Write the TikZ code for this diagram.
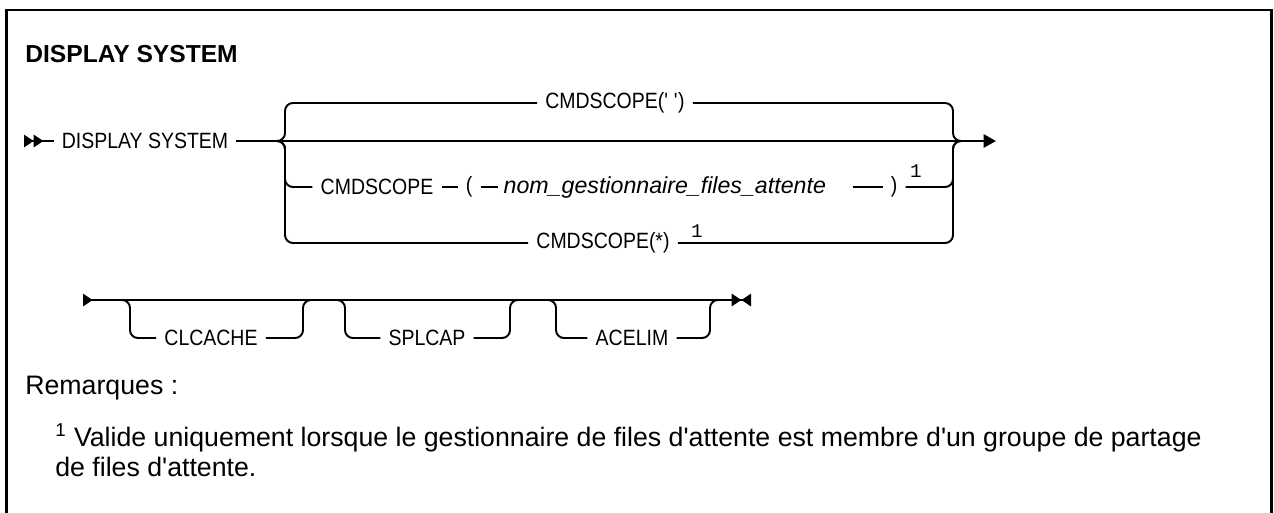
\documentclass[tikz,border=0pt]{standalone}
\usepackage{fontspec}
\setmainfont{Liberation Sans}
\setmonofont{Liberation Mono}
\newfontfamily\railfont[FakeStretch=0.88]{Liberation Sans}
\usetikzlibrary{arrows.meta, positioning}

\newcommand{\sq}{\textquotesingle}

\tikzset{
  rail/.style={line width=1.1pt, rounded corners=4.5pt},
  kw/.style={font=\railfont\fontsize{12.6}{15}\selectfont, inner xsep=4.5pt, inner ysep=0pt},
  var/.style={font=\fontsize{13.2}{15}\selectfont\itshape, inner xsep=3pt, inner ysep=0pt},
  fnmark/.style={font=\ttfamily\fontsize{11}{13}\selectfont, inner sep=0pt},
  note/.style={font=\fontsize{15.2}{18}\selectfont, inner sep=0pt, anchor=base west},
}

\begin{document}
\begin{tikzpicture}[x=0.02cm, y=-0.02cm]
  \useasboundingbox (0,0) rectangle (1274,512);
  \clip (0,0) rectangle (1274,512);

  % frame
  \draw[line width=1.6pt] (6.5,540) |- (1271.5,10) -- (1271.5,540);

  \node[font=\bfseries\fontsize{14}{17}\selectfont, anchor=west, inner sep=0pt]
    (title) at (25,54) {DISPLAY SYSTEM};

  % first row
  \coordinate (start) at (24,141);
  \coordinate (split) at (277,141);
  \coordinate (rb) at (953,141);
  \coordinate (join) at (961,141);
  \coordinate (out) at (996,141);
  \node[kw] (cmd) at (145,141) {DISPLAY SYSTEM};
  \draw[rail, {Triangle[reversed, length=5.5pt, width=7pt] Triangle[reversed, length=5.5pt, width=7pt]}-]
    (start) -- (cmd.west);
  \draw[rail] (cmd.east) -- (split);
  \draw[rail, -{Triangle[length=7pt, width=7.5pt]}] (split) -- (out);

  \node[kw] (dflt) at (615,103) {CMDSCOPE(\sq\ \sq)};
  \node[kw] (scope) at (377,187) {CMDSCOPE};
  \node[kw] (lpar) at (469,187) {(};
  \node[var, anchor=west] (qmgr) at (498,187) {nom\_gestionnaire\_files\_attente};
  \node[kw] (rpar) at (894,187) {)};
  \node[fnmark] (fn1) at (916,171) {1};
  \node[kw] (star) at (603,243) {CMDSCOPE(*)};
  \node[fnmark] (fn2) at (697,231) {1};

  \draw[rail] (split) -| (285,103) -- (dflt.west);
  \draw[rail] (split) -| (285,187) -- (scope.west);
  \draw[rail] (split) -| (285,243) -- (star.west);
  \draw[rail] (scope.east) -- (lpar.west);
  \draw[rail] (lpar.east) -- (qmgr.west);
  \draw[rail] ([xshift=12pt]qmgr.east) -- (rpar.west);
  \draw[rail] (dflt.east) -| (rb) -- (join);
  \draw[rail] (rpar.east) -| (rb) -- (join);
  \draw[rail] (star.east) -| (rb) -- (join);

  % second row
  \coordinate (cont) at (83,300);
  \coordinate (stop) at (751,300);
  \draw[rail, {Triangle[reversed, length=5.5pt, width=7pt]}-{Triangle[length=5.5pt, width=7pt] Triangle[reversed, length=5.5pt, width=7pt]}]
    (cont) -- (stop);
  \node[kw] (clc) at (211,338) {CLCACHE};
  \node[kw] (spl) at (427,338) {SPLCAP};
  \node[kw] (ace) at (632,338) {ACELIM};
  \foreach \nm/\dx/\rx in {clc/130/303, spl/345/510, ace/556/710} {
    \draw[rail] (\dx-12,300) -| (\dx,338) -- (\nm.west);
    \draw[rail] (\nm.east) -| (\rx,300) -- (\rx+12,300);
  }

  % notes
  \node[note] (rem) at (25,394) {Remarques :};
  \node[note] (fn) at (55,446) {\textsuperscript{1} Valide uniquement lorsque le gestionnaire de files d\sq attente est membre d\sq un groupe de partage};
  \node[note] (fnb) at (55,476) {de files d\sq attente.};
\end{tikzpicture}
\end{document}
